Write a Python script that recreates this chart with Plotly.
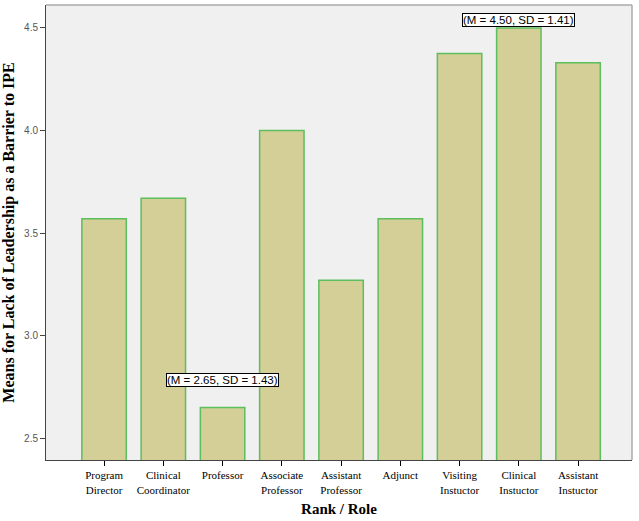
import plotly.graph_objects as go

categories = ["Program<br>Director", "Clinical<br>Coordinator", "Professor", "Associate<br>Professor",
              "Assistant<br>Professor", "Adjunct", "Visiting<br>Instuctor", "Clinical<br>Instuctor",
              "Assistant<br>Instuctor"]
means = [3.57, 3.67, 2.65, 4.00, 3.27, 3.57, 4.375, 4.50, 4.33]
notes = [(2, "(M = 2.65, SD = 1.43)", 2.785), (7, "(M = 4.50, SD = 1.41)", 4.538)]
BASE = 2.3
SERIF = "Liberation Serif, Times New Roman, DejaVu Serif, serif"

fig = go.Figure(go.Bar(
    x=list(range(len(categories))), y=[m - BASE for m in means], base=BASE, width=0.75,
    marker=dict(color="#D3CF97", line=dict(color="#5DBE5D", width=1.5)),
))

for idx, txt, yv in notes:
    fig.add_annotation(x=idx, y=yv, text=txt, showarrow=False,
                       font=dict(family="Liberation Sans", size=11.5, color="black"),
                       bgcolor="white", bordercolor="black", borderwidth=1, borderpad=0)

fig.update_layout(
    width=639, height=521,
    margin=dict(l=46, r=7, t=5, b=61),
    paper_bgcolor="white", plot_bgcolor="#F0F0F0",
    showlegend=False,
    xaxis=dict(range=[-0.98, 8.91], tickmode="array", tickvals=list(range(len(categories))),
               ticktext=categories, ticks="outside", ticklen=5, tickcolor="black",
               showline=True, linecolor="#444", mirror=False, showgrid=False, zeroline=False,
               tickfont=dict(family=SERIF, size=11, color="black"),
               title=dict(text="<b>Rank / Role</b>", font=dict(family=SERIF, size=15, color="black"),
                          standoff=8)),
    yaxis=dict(range=[2.394, 4.612], tickvals=[2.5, 3.0, 3.5, 4.0, 4.5], ticktext=["2.5", "3.0", "3.5", "4.0", "4.5"],
               ticks="outside", ticklen=5, tickcolor="#444",
               showline=True, linecolor="#444", showgrid=False, zeroline=False,
               tickfont=dict(family="Liberation Sans", size=10, color="#555"),
               title=dict(text="<b>Means for Lack of Leadership as a Barrier to IPE</b>",
                          font=dict(family=SERIF, size=16, color="black"), standoff=7)),
    shapes=[
        dict(type="line", xref="paper", yref="paper", x0=0, x1=1, y0=1, y1=1, line=dict(color="#AAAAAA", width=1.5)),
        dict(type="line", xref="paper", yref="paper", x0=1, x1=1, y0=0, y1=1, line=dict(color="#AAAAAA", width=1.5)),
    ],
)
fig.write_html("out.html")
